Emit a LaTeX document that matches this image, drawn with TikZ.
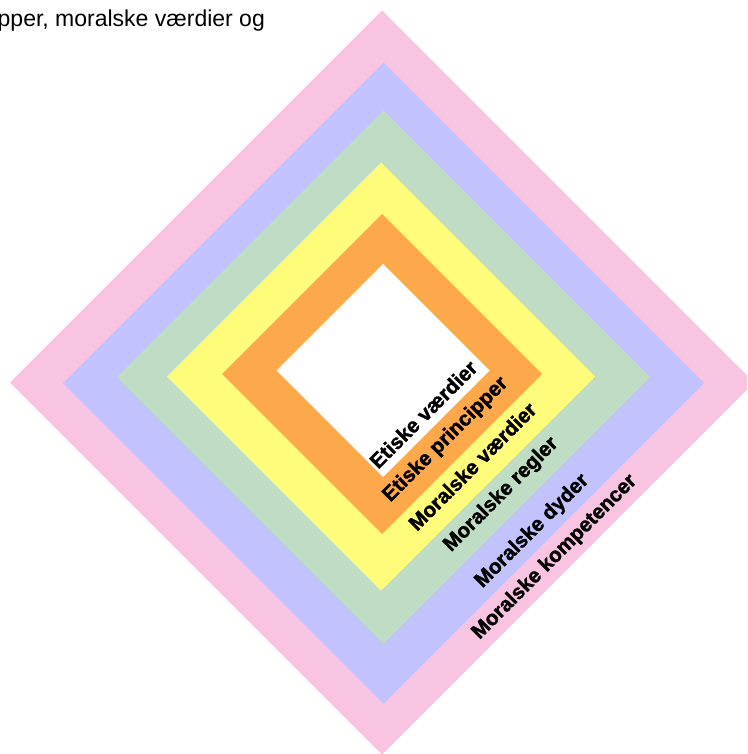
\documentclass[tikz,border=0pt]{standalone}
\usepackage{fontspec}
\setmainfont{Liberation Sans}
\newfontfamily\heavyfont[FakeBold=1.6]{Liberation Sans Bold}
\definecolor{cpink}{RGB}{249,196,225}
\definecolor{cblue}{RGB}{193,194,254}
\definecolor{cgreen}{RGB}{190,221,196}
\definecolor{cyellow}{RGB}{255,251,123}
\definecolor{corange}{RGB}{254,168,76}
\newcommand\dmd[4]{\fill[#1] (#2-#4,#3) -- (#2,#3-#4) -- (#2+#4,#3) -- (#2,#3+#4) -- cycle;}
\begin{document}
\begin{tikzpicture}[x=1pt,y=-1pt,
  lbl/.style={font=\heavyfont\fontsize{20.6}{24}\selectfont, rotate=45, anchor=base, inner sep=0pt},
  toptext/.style={font=\fontsize{23}{27}\selectfont, anchor=base west, inner sep=0pt}]
\useasboundingbox (0,0) rectangle (747,754);
\clip (0,0) rectangle (747,754);
\dmd{cpink}{382}{382.5}{372}
\dmd{cblue}{383.5}{383}{320.5}
\dmd{cgreen}{383.5}{377}{266.5}
\dmd{cyellow}{381}{376.5}{214}
\dmd{corange}{382}{374}{160}
\dmd{white}{383}{370.5}{106.5}
\node[toptext] (top) at (-2.5,26.5) {pper, moralske værdier og};
\node[lbl] (l1) at (428.5,419.5) {Etiske værdier};
\node[lbl] (l2) at (449.5,443.5) {Etiske principper};
\node[lbl] (l3) at (477.5,471.5) {Moralske værdier};
\node[lbl] (l4) at (505,498.5) {Moralske regler};
\node[lbl] (l5) at (536,535) {Moralske dyder};
\node[lbl] (l6) at (558.5,561) {Moralske kompetencer};
\end{tikzpicture}
\end{document}
